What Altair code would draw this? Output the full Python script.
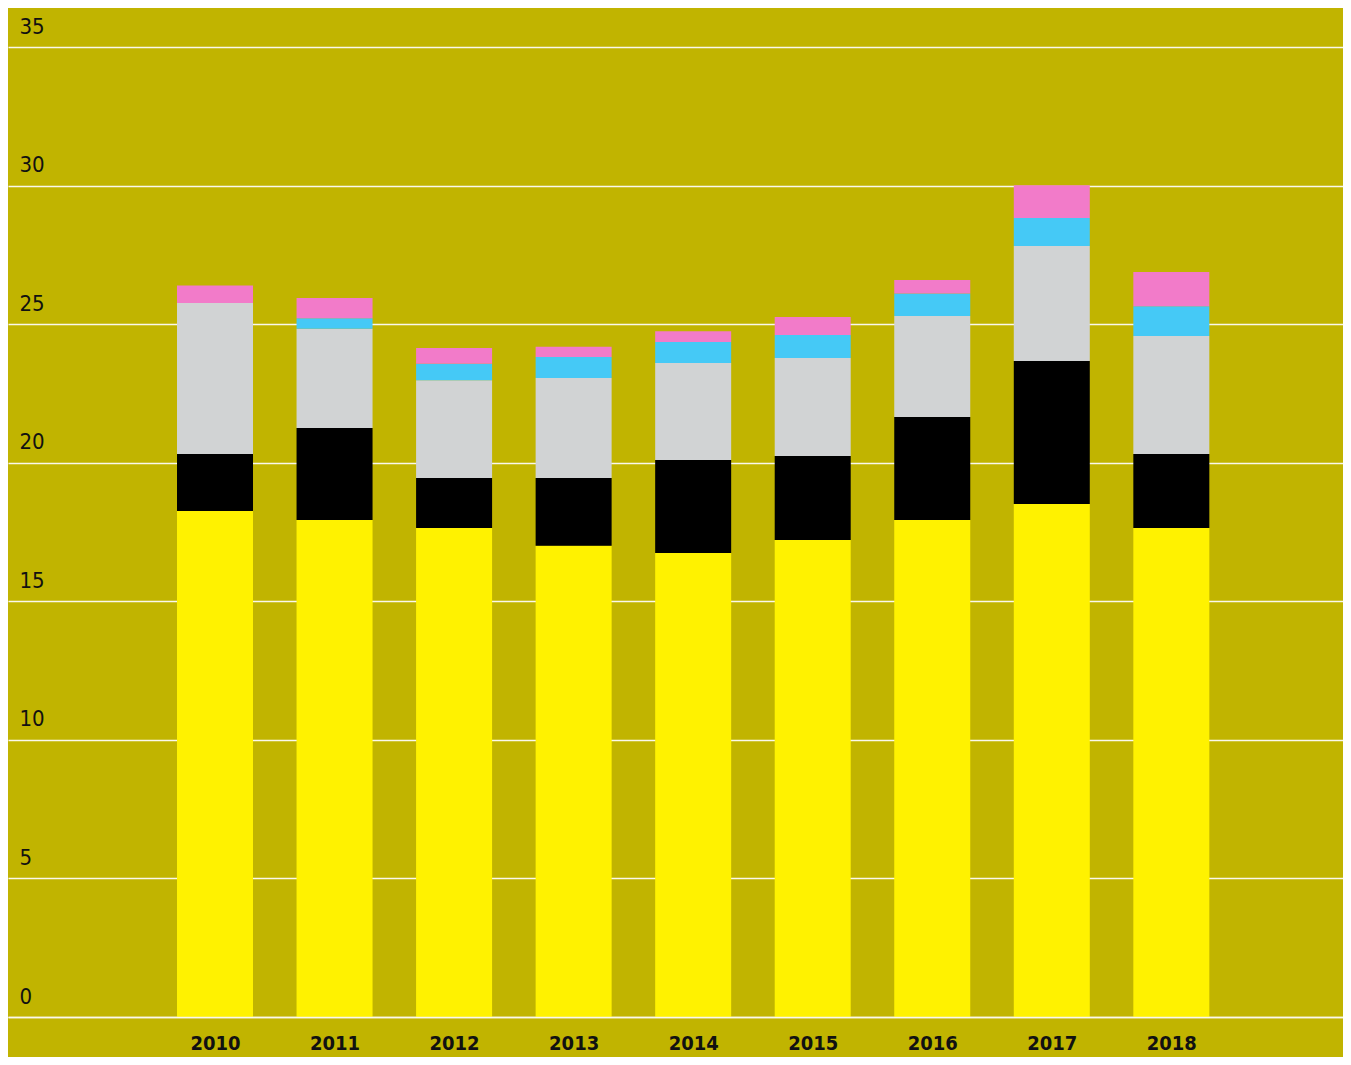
import altair as alt
import pandas as pd

# ---- data ----
years = [2010, 2011, 2012, 2013, 2014, 2015, 2016, 2017, 2018]
series_names = ["Serie 1", "Serie 2", "Serie 3", "Serie 4", "Serie 5"]
serie1 = [18.26, 17.93, 17.64, 17.00, 16.74, 17.21, 17.93, 18.51, 17.64]
serie2 = [2.05, 3.32, 1.81, 2.45, 3.36, 3.03, 3.72, 5.16, 2.67]
serie3 = [5.45, 3.58, 3.53, 3.61, 3.50, 3.54, 3.64, 4.15, 4.26]
serie4 = [0.00, 0.38, 0.59, 0.75, 0.76, 0.83, 0.82, 1.01, 1.08]
serie5 = [0.63, 0.73, 0.57, 0.37, 0.38, 0.65, 0.48, 1.18, 1.23]
y_ticks = [0, 5, 10, 15, 20, 25, 30, 35]

colors = ["#FFF200", "#000000", "#D1D3D4", "#45C9F6", "#F27BC9"]
BG = "#C1B400"
GRID = "#FAF8EC"
FONT = "DejaVu Sans Condensed, Roboto, sans-serif"

rows = []
all_series = [serie1, serie2, serie3, serie4, serie5]
for i, yr in enumerate(years):
    for k, (name, vals) in enumerate(zip(series_names, all_series)):
        rows.append({"year": yr, "series": name, "order": k, "value": vals[i]})
df = pd.DataFrame(rows)

chart = (
    alt.Chart(df)
    .mark_bar(size=76, strokeWidth=0)
    .encode(
        x=alt.X(
            "year:Q",
            scale=alt.Scale(domain=[2008.2683, 2019.4361], nice=False, zero=False, padding=0),
            axis=alt.Axis(
                values=years,
                format="d",
                title=None,
                grid=False,
                ticks=False,
                tickSize=0,
                domain=True,
                domainColor=GRID,
                domainWidth=1.3,
                labelFont=FONT,
                labelFontWeight="bold",
                labelFontSize=20,
                labelColor="#111111",
                labelPadding=32,
                labelBaseline="alphabetic",
                labelFlush=False,
                labelOverlap=False,
                zindex=1,
            ),
        ),
        y=alt.Y(
            "value:Q",
            stack="zero",
            scale=alt.Scale(domain=[0, 35], nice=False),
            axis=alt.Axis(
                values=y_ticks,
                title=None,
                grid=True,
                gridColor=GRID,
                gridWidth=1.3,
                ticks=False,
                tickSize=0,
                domain=False,
                labelAlign="left",
                labelBaseline="alphabetic",
                labelPadding=-11,
                labelOffset=-14,
                labelFont=FONT,
                labelFontSize=22,
                labelColor="#111111",
                labelFlush=False,
                labelOverlap=False,
                zindex=0,
            ),
        ),
        color=alt.Color(
            "series:N",
            scale=alt.Scale(domain=series_names, range=colors),
            legend=None,
        ),
        order=alt.Order("order:Q", sort="ascending"),
    )
    .properties(
        width=1335,
        height=970,
        autosize=alt.AutoSizeParams(type="none"),
        padding={"left": 0, "top": 39, "right": 0, "bottom": 40},
        background=BG,
    )
    .configure_view(stroke=None)
)

chart.save("out.html", embed_options={"renderer": "svg", "actions": False})
